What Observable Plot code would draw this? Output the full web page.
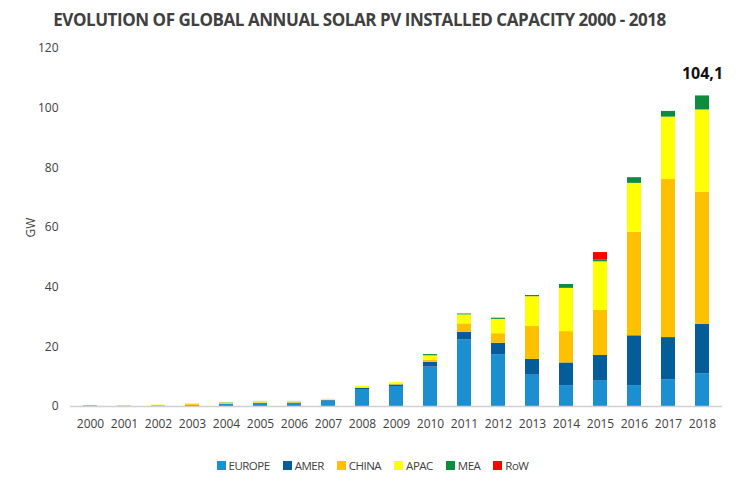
<!DOCTYPE html>
<html>
<head>
<meta charset="utf-8">
<script src="https://cdn.jsdelivr.net/npm/d3@7"></script>
<script src="https://cdn.jsdelivr.net/npm/@observablehq/plot@0.6"></script>
<style>
  body { margin: 0; background: #fff; font-family: "Open Sans", sans-serif; }
  #title { height: 40px; line-height: 40px; text-align: center; font-weight: 700; font-size: 17px; color: #404040; padding-right: 26px; letter-spacing: -0.45px; white-space: nowrap; }
  #legend { display: flex; justify-content: center; gap: 13px; font-size: 11.5px; letter-spacing: -0.5px; color: #404040; margin-top: 18px; padding-right: 0px; }
  #legend span.sw { display: inline-block; width: 9px; height: 9px; margin-right: 3px; vertical-align: 0px; }
</style>
</head>
<body>
<div id="title">EVOLUTION OF GLOBAL ANNUAL SOLAR PV INSTALLED CAPACITY 2000 - 2018</div>
<div id="chart"></div>
<div id="legend"></div>
<script>
const years = ["2000","2001","2002","2003","2004","2005","2006","2007","2008","2009","2010","2011","2012","2013","2014","2015","2016","2017","2018"];
const regions = ["EUROPE","AMER","CHINA","APAC","MEA","RoW"];
const colors = ["#1b8fd0","#045c98","#ffc000","#ffff00","#0e8c3e","#ff0000"];
const europe = [0.05,0.1,0.15,0.2,0.7,1.0,1.0,1.8,5.7,6.7,13.2,22.3,17.4,10.5,7.0,8.5,7.0,9.0,11.0];
const amer   = [0.02,0.03,0.05,0.1,0.1,0.1,0.15,0.2,0.4,0.5,1.6,2.6,3.8,5.3,7.6,8.6,16.7,14.1,16.6];
const china  = [0.01,0.01,0.02,0.02,0.05,0.05,0.05,0.05,0.1,0.3,0.6,2.8,3.2,11.0,10.5,15.1,34.7,53.0,44.2];
const apac   = [0.1,0.15,0.25,0.3,0.3,0.5,0.45,0.3,0.6,0.5,1.6,3.0,4.8,10.0,14.5,16.3,16.4,20.9,27.6];
const mea    = [0,0,0,0,0.1,0.05,0.05,0.02,0,0,0.4,0.3,0.4,0.4,1.3,0.7,1.9,1.9,4.7];
const row    = [0.1,0,0,0.1,0,0,0,0,0,0,0,0,0,0,0,2.4,0,0,0];
const yTicks = [0,20,40,60,80,100,120];
const totalLabelYear = "2018";
const totalLabel = "104,1";

const series = [europe, amer, china, apac, mea, row];
const data = [];
years.forEach((yr, i) => {
  regions.forEach((r, k) => data.push({year: yr, region: r, value: series[k][i]}));
});
const totals = years.map((yr, i) => ({year: yr, total: d3.sum(series, s => s[i])}));
const labelData = totals.filter(d => d.year === totalLabelYear).map(d => ({...d, text: totalLabel}));

const chart = Plot.plot({
  width: 745,
  height: 400,
  marginLeft: 70,
  marginRight: 23,
  marginTop: 8,
  marginBottom: 34,
  style: {fontFamily: "Open Sans", fontSize: "12px", color: "#404040", background: "#fff"},
  x: {domain: years, paddingInner: 0.59, paddingOuter: 0.295, label: null},
  y: {domain: [0, 120], label: null},
  color: {domain: regions, range: colors},
  marks: [
    Plot.barY(data, {x: "year", y: "value", fill: "region", order: regions}),
    Plot.ruleY([0], {stroke: "#d0d0d0", strokeWidth: 1.5}),
    Plot.axisY({ticks: yTicks, tickSize: 0, tickPadding: 12, label: "GW", labelAnchor: "center", labelArrow: "none", labelOffset: 44, fontSize: 12}),
    Plot.axisX({tickSize: 0, tickPadding: 13, label: null, fontSize: 12}),
    Plot.text(labelData, {x: "year", y: "total", text: "text", dy: -22, fontWeight: "bold", fontSize: 16, fill: "#111"})
  ]
});
document.getElementById("chart").appendChild(chart);

const legend = document.getElementById("legend");
regions.forEach((r, k) => {
  const item = document.createElement("div");
  item.innerHTML = `<span class="sw" style="background:${colors[k]}"></span>${r}`;
  legend.appendChild(item);
});
</script>
</body>
</html>
